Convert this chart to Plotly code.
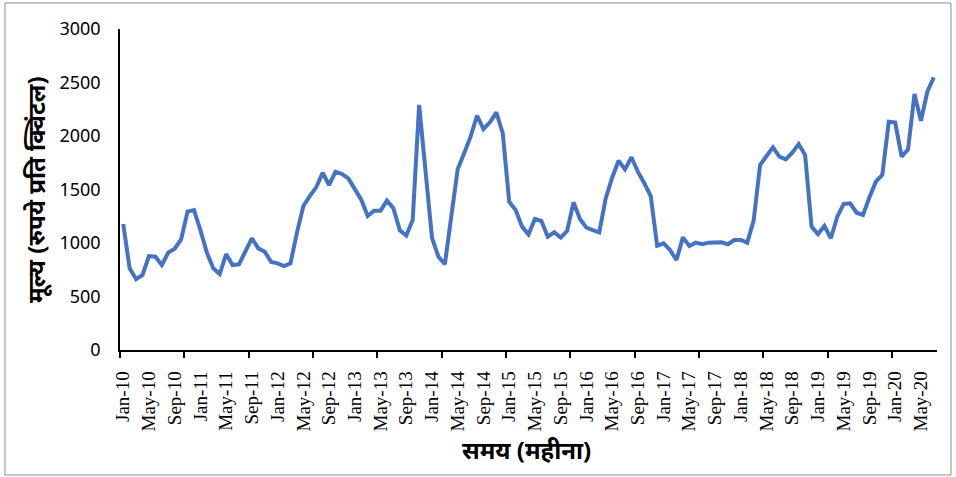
import plotly.graph_objects as go

# Monthly price, Jan 2010 – Jul 2020 (Rs per quintal)
months = ["Jan", "Feb", "Mar", "Apr", "May", "Jun",
          "Jul", "Aug", "Sep", "Oct", "Nov", "Dec"]
years = list(range(10, 21))
month_labels = [f"{m}-{y:02d}" for y in years for m in months][:127]

price = [
    1178, 764, 661, 701, 878, 872, 794, 910, 947, 1034, 1293, 1308,
    1120, 910, 763, 710, 897, 794, 801, 928, 1044, 950, 919, 822,
    810, 785, 810, 1095, 1345, 1439, 1520, 1657, 1542, 1667, 1645, 1604,
    1498, 1405, 1252, 1302, 1302, 1396, 1324, 1118, 1069, 1215, 2290, 1680,
    1048, 872, 802, 1250, 1692, 1838, 1994, 2190, 2065, 2128, 2221, 2025,
    1386, 1308, 1153, 1081, 1224, 1206, 1059, 1100, 1050, 1112, 1380, 1224,
    1143, 1121, 1100, 1417, 1610, 1769, 1688, 1801, 1667, 1558, 1439, 975,
    997, 935, 841, 1053, 972, 1003, 988, 1003, 1003, 1006, 988, 1028,
    1028, 1003, 1209, 1729, 1813, 1894, 1807, 1782, 1844, 1925, 1822, 1153,
    1084, 1159, 1044, 1246, 1365, 1371, 1283, 1262, 1427, 1573, 1636, 2134,
    2125, 1807, 1875, 2393, 2143, 2414, 2548,
]

y_ticks = [0, 500, 1000, 1500, 2000, 2500, 3000]
x_title = "समय (महीना)"
y_title = "मूल्य (रुपये प्रति क्विंटल)"

idx = list(range(len(price)))
label_pos = idx[::4]
label_text = [month_labels[i] for i in label_pos]

fig = go.Figure()
fig.add_trace(go.Scatter(
    x=idx, y=price, mode="lines",
    line=dict(color="#4472C4", width=4),
    hoverinfo="skip", showlegend=False,
))

fig.update_layout(
    width=956, height=477,
    margin=dict(l=120, r=19, t=29, b=127),
    paper_bgcolor="white", plot_bgcolor="white",
    xaxis=dict(
        range=[-0.5, len(price) - 0.5],
        tickmode="array", tickvals=label_pos, ticktext=label_text,
        tickangle=-90, ticks="",
        tickfont=dict(family="Liberation Serif", size=19, color="#000"),
        ticklabelstandoff=12,
        showline=True, linecolor="#000", linewidth=1.5,
        showgrid=False, zeroline=False,
        minor=dict(ticks="outside", tick0=-0.5, dtick=10, ticklen=6,
                   tickwidth=1.5, tickcolor="#000", showgrid=False),
    ),
    yaxis=dict(
        range=[0, 3000], tickmode="array", tickvals=y_ticks,
        ticks="", showline=True, linecolor="#000", linewidth=1.5,
        tickfont=dict(family="Noto Sans", size=18, color="#000"),
        ticklabelstandoff=14,
        showgrid=False, zeroline=False,
    ),
    annotations=[
        dict(text=f"<b>{x_title}</b>", x=0.497, y=-0.31,
             xref="paper", yref="paper", xanchor="center", yanchor="middle",
             showarrow=False, font=dict(family="Noto Sans", size=24, color="#000")),
        dict(text=f"<b>{y_title}</b>", x=-0.1035, y=0.5, textangle=-90,
             xref="paper", yref="paper", xanchor="center", yanchor="middle",
             showarrow=False, font=dict(family="Noto Sans", size=24, color="#000")),
    ],
    shapes=[
        dict(type="rect", xref="paper", yref="paper",
             x0=-0.1408, x1=1.0171, y0=-0.3894, y1=1.0810,
             line=dict(color="#8c8c8c", width=1), fillcolor="rgba(0,0,0,0)",
             layer="below"),
    ],
)

fig.write_html("out.html")
